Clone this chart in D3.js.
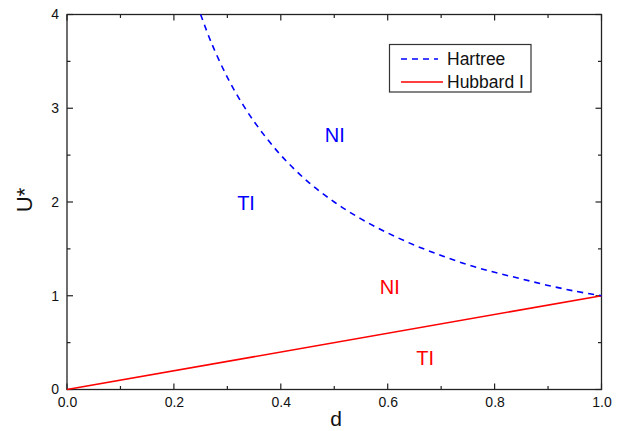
<!DOCTYPE html>
<html><head><meta charset="utf-8">
<script src="https://cdn.jsdelivr.net/npm/d3@7"></script>
<style>body{margin:0;background:#fff}svg{display:block;font-family:Arial,"Liberation Sans",sans-serif}</style>
</head><body><svg id="c" width="622" height="431"></svg>
<script>
const hartreeD = [0.25,0.27,0.30,0.33,0.36,0.40,0.45,0.50,0.55,0.60,0.65,0.70,0.75,0.80,0.85,0.90,0.95,1.00];
const hartreeU = [4.00,3.70,3.33,3.03,2.78,2.50,2.22,2.00,1.82,1.67,1.54,1.43,1.33,1.25,1.18,1.11,1.05,1.00];
const hubbardD = [0.0,1.0];
const hubbardU = [0.0,1.0];
const xTicks = [0.0,0.2,0.4,0.6,0.8,1.0];
const yTicks = [0,1,2,3,4];
const legendLabels = ["Hartree","Hubbard I"];
const regionLabels = [
  {text:"NI", d:0.501, u:2.72, color:"#0000ff"},
  {text:"TI", d:0.335, u:1.995, color:"#0000ff"},
  {text:"NI", d:0.604, u:1.10, color:"#ff0000"},
  {text:"TI", d:0.670, u:0.336, color:"#ff0000"}
];

const svg = d3.select("#c");
const L=67, R=601.5, T=14.5, B=389.5;
const x = d3.scaleLinear().domain([0,1]).range([L,R]);
const y = d3.scaleLinear().domain([0,4]).range([B,T]);
const axisColor = "#222";
const FONT = "Arial, 'Liberation Sans', sans-serif";

// ticks (inward, mirrored)
const xMinor = d3.range(0,1.0001,0.1);
const yMinor = d3.range(0,4.0001,0.5);
const g = svg.append("g").attr("stroke",axisColor).attr("stroke-width",1.2);
xMinor.forEach((v,i)=>{
  const len = (i%2===0)?6:3.5;
  g.append("line").attr("x1",x(v)).attr("x2",x(v)).attr("y1",B).attr("y2",B-len);
  g.append("line").attr("x1",x(v)).attr("x2",x(v)).attr("y1",T).attr("y2",T+len);
});
yMinor.forEach((v,i)=>{
  const len = (i%2===0)?6:3.5;
  g.append("line").attr("y1",y(v)).attr("y2",y(v)).attr("x1",L).attr("x2",L+len);
  g.append("line").attr("y1",y(v)).attr("y2",y(v)).attr("x1",R).attr("x2",R-len);
});

// tick labels via axes
const xa = svg.append("g").attr("transform",`translate(0,${B})`)
  .call(d3.axisBottom(x).tickValues(xTicks).tickFormat(d3.format(".1f")).tickSize(0).tickPadding(8));
const ya = svg.append("g").attr("transform",`translate(${L},0)`)
  .call(d3.axisLeft(y).tickValues(yTicks).tickFormat(d3.format("d")).tickSize(0).tickPadding(8));
[xa,ya].forEach(a=>{a.select(".domain").remove();a.selectAll("text").attr("font-size",14).attr("fill","#111").attr("font-family",FONT);});

// frame
svg.append("rect").attr("x",L).attr("y",T).attr("width",R-L).attr("height",B-T)
  .attr("fill","none").attr("stroke",axisColor).attr("stroke-width",1.3);

// lines
const line = d3.line().x(d=>x(d[0])).y(d=>y(d[1])).curve(d3.curveCatmullRom);
svg.append("path").datum(hubbardD.map((d,i)=>[d,hubbardU[i]]))
  .attr("d",line).attr("fill","none").attr("stroke","#ff0000").attr("stroke-width",1.6);
svg.append("path").datum(hartreeD.map((d,i)=>[d,hartreeU[i]]))
  .attr("d",line).attr("fill","none").attr("stroke","#0000ff").attr("stroke-width",1.6).attr("stroke-dasharray","6,5");

// region labels (centre of caps at data point)
const RF = 20;
svg.selectAll("text.reg").data(regionLabels).enter().append("text")
  .attr("x",d=>x(d.d)).attr("y",d=>y(d.u)+0.358*RF).attr("text-anchor","middle")
  .attr("font-size",RF).attr("font-family",FONT).attr("fill",d=>d.color).text(d=>d.text);

// axis titles
svg.append("text").attr("x",336).attr("y",426).attr("text-anchor","middle").attr("font-size",21).attr("font-family",FONT).attr("fill","#111").text("d");
svg.append("text").attr("transform",`translate(32,200) rotate(-90)`).attr("text-anchor","middle").attr("font-size",22).attr("font-family",FONT).attr("fill","#111").text("U*");

// legend
const lg = svg.append("g");
lg.append("rect").attr("x",389.5).attr("y",44.5).attr("width",141.5).attr("height",47.5).attr("fill","#fff").attr("stroke","#333").attr("stroke-width",1.2);
const legStyles = [{c:"#0000ff",dash:"6,5",x2:438},{c:"#ff0000",dash:null,x2:443}];
const LF = 17.5;
legendLabels.forEach((t,i)=>{
  const yy = 59 + i*23;
  const ln = lg.append("line").attr("x1",401).attr("x2",legStyles[i].x2).attr("y1",yy).attr("y2",yy).attr("stroke",legStyles[i].c).attr("stroke-width",1.6);
  if(legStyles[i].dash) ln.attr("stroke-dasharray",legStyles[i].dash);
  lg.append("text").attr("x",447).attr("y",yy+0.358*LF).attr("font-size",LF).attr("font-family",FONT).attr("fill","#111").text(t);
});
</script></body></html>
